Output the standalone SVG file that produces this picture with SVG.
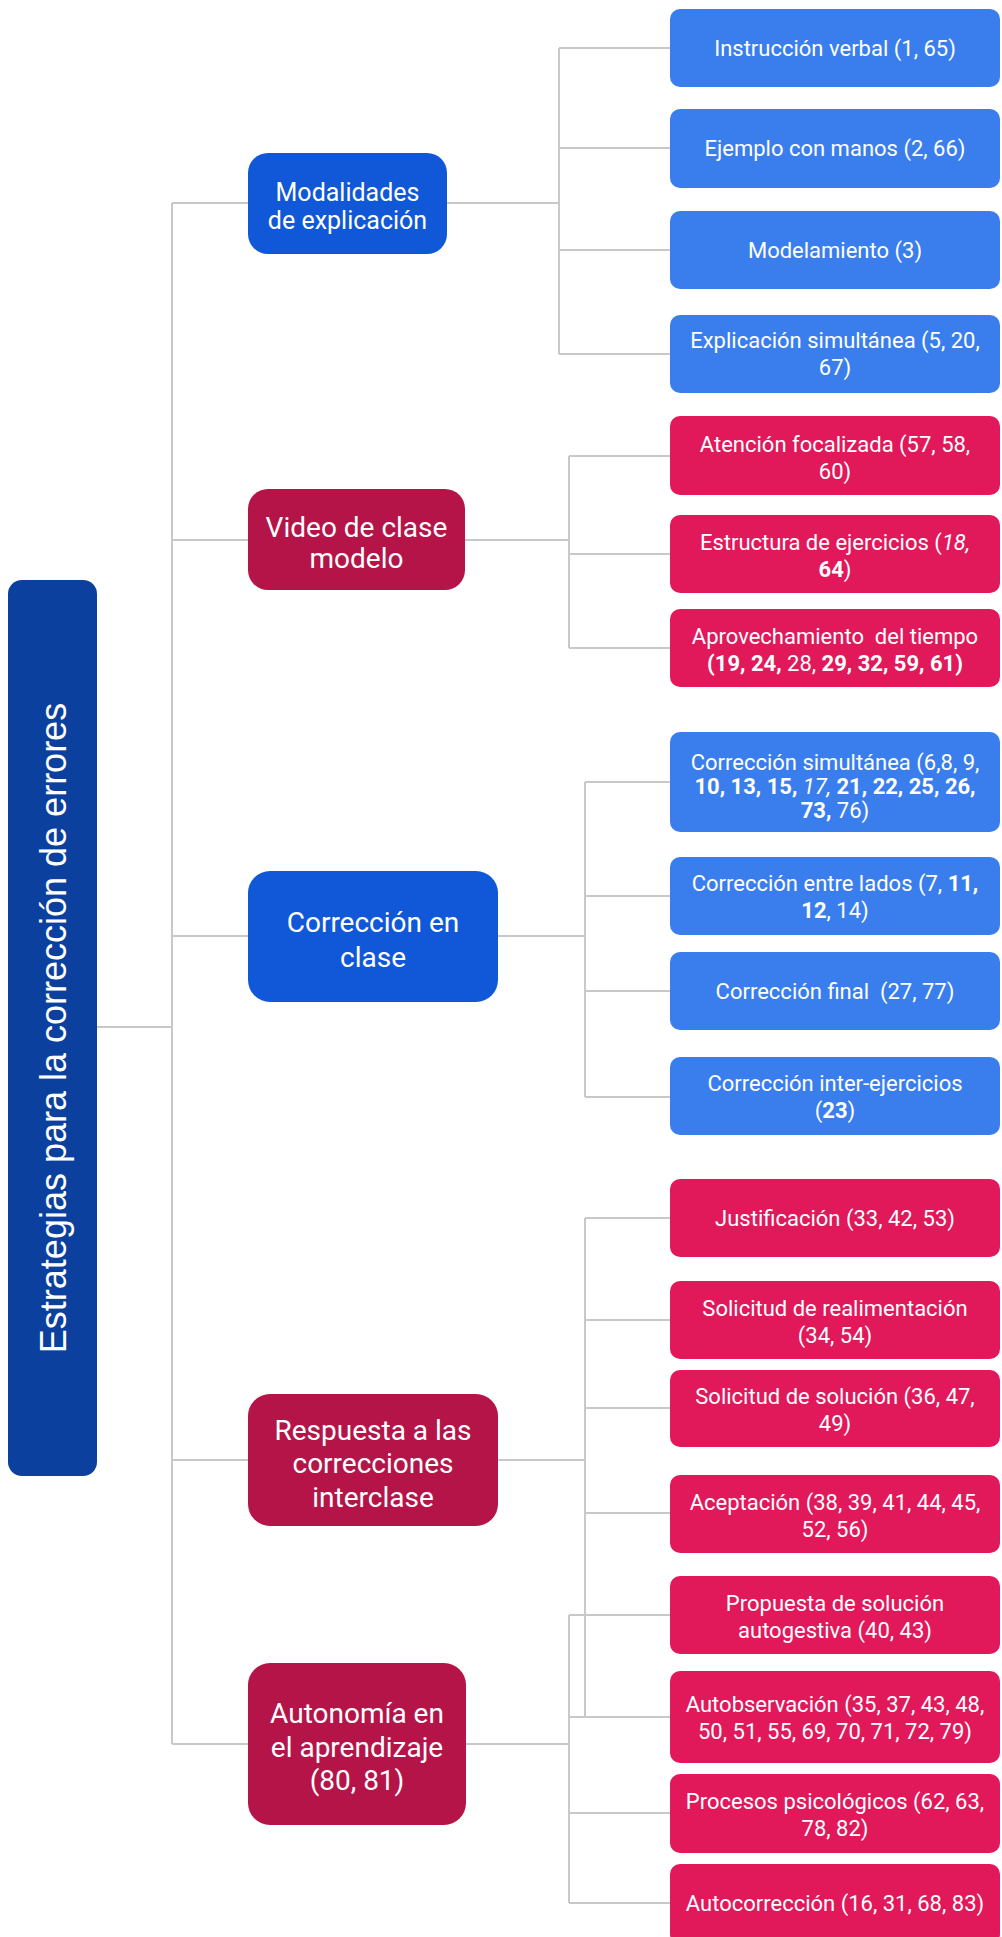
<svg xmlns="http://www.w3.org/2000/svg" width="1002" height="1937" viewBox="0 0 1002 1937">
<style>
.bg{fill:#ffffff}
.leafB{fill:#3a7eed}
.leafR{fill:#e1185a}
.midB{fill:#1058d8}
.midR{fill:#b41448}
.root{fill:#0b409f}
.conn{stroke:#c8c8c8;stroke-width:2;fill:none}
text{font-family:Roboto,"Liberation Sans",sans-serif;fill:#ffffff;text-anchor:middle}
.lt{font-size:22px}
.mt{font-size:28px}
.mt25{font-size:25px}
.rt{font-family:"Liberation Sans",Arial,sans-serif;font-size:36px}
.b{font-weight:bold}
.i{font-style:italic}
</style>
<rect class="bg" x="0" y="0" width="1002" height="1937"/>
<g id="connectors">
<path class="conn" d="M97,1027 H172 M172,203 V1744 M172,203 H248 M172,540 H248 M172,936 H248 M172,1460 H248 M172,1744 H248"/>
<path class="conn" d="M447,203 H559 M559,48 V354 M559,48 H670 M559,148 H670 M559,250 H670 M559,354 H670"/>
<path class="conn" d="M465,540 H569 M569,456 V648 M569,456 H670 M569,554 H670 M569,648 H670"/>
<path class="conn" d="M498,936 H585 M585,782 V1097 M585,782 H670 M585,896 H670 M585,991 H670 M585,1097 H670"/>
<path class="conn" d="M498,1460 H585 M585,1218 V1717 M585,1218 H670 M585,1320 H670 M585,1408 H670 M585,1513 H670 M585,1717 H670"/>
<path class="conn" d="M466,1744 H569 M569,1615 V1903 M569,1615 H670 M569,1717 H670 M569,1813 H670 M569,1903 H670"/>
</g>
<g id="root">
<rect class="root" x="8" y="580" width="89" height="896" rx="14"/>
<text class="rt" transform="translate(66,1028) rotate(-90)">Estrategias para la corrección de errores</text>
</g>
<g id="n-modalidades">
<rect class="midB" x="248" y="153" width="199" height="101" rx="20"/>
<text class="mt25" x="347.5" y="201">Modalidades</text>
<text class="mt25" x="347.5" y="229">de explicación</text>
</g>
<g id="n-video">
<rect class="midR" x="248" y="489" width="217" height="101" rx="20"/>
<text class="mt" x="356.5" y="537">Video de clase</text>
<text class="mt" x="356.5" y="568">modelo</text>
</g>
<g id="n-correccion">
<rect class="midB" x="248" y="871" width="250" height="131" rx="22"/>
<text class="mt" x="373" y="932">Corrección en</text>
<text class="mt" x="373" y="967">clase</text>
</g>
<g id="n-respuesta">
<rect class="midR" x="248" y="1394" width="250" height="132" rx="22"/>
<text class="mt" x="373" y="1440">Respuesta a las</text>
<text class="mt" x="373" y="1473">correcciones</text>
<text class="mt" x="373" y="1507">interclase</text>
</g>
<g id="n-autonomia">
<rect class="midR" x="248" y="1663" width="218" height="162" rx="22"/>
<text class="mt" x="357" y="1723">Autonomía en</text>
<text class="mt" x="357" y="1757">el aprendizaje</text>
<text class="mt" x="357" y="1790">(80, 81)</text>
</g>
<g id="l-instruccion">
<rect class="leafB" x="670" y="9" width="330" height="78" rx="10"/>
<text class="lt" x="835" y="56">Instrucción verbal (1, 65)</text>
</g>
<g id="l-ejemplo">
<rect class="leafB" x="670" y="109" width="330" height="79" rx="10"/>
<text class="lt" x="835" y="156">Ejemplo con manos (2, 66)</text>
</g>
<g id="l-modelamiento">
<rect class="leafB" x="670" y="211" width="330" height="78" rx="10"/>
<text class="lt" x="835" y="258">Modelamiento (3)</text>
</g>
<g id="l-explicacion">
<rect class="leafB" x="670" y="315" width="330" height="78" rx="10"/>
<text class="lt" x="835" y="348">Explicación simultánea (5, 20,</text>
<text class="lt" x="835" y="375">67)</text>
</g>
<g id="l-atencion">
<rect class="leafR" x="670" y="416" width="330" height="79" rx="10"/>
<text class="lt" x="835" y="452">Atención focalizada (57, 58,</text>
<text class="lt" x="835" y="479">60)</text>
</g>
<g id="l-estructura">
<rect class="leafR" x="670" y="515" width="330" height="78" rx="10"/>
<text class="lt" x="835" y="550">Estructura de ejercicios (<tspan class="i">18,</tspan></text>
<text class="lt" x="835" y="577"><tspan class="b">64</tspan>)</text>
</g>
<g id="l-aprovechamiento">
<rect class="leafR" x="670" y="609" width="330" height="78" rx="10"/>
<text class="lt" x="835" y="644" xml:space="preserve">Aprovechamiento  del tiempo</text>
<text class="lt" x="835" y="671"><tspan class="b">(19, 24,</tspan> 28, <tspan class="b">29, 32, 59, 61)</tspan></text>
</g>
<g id="l-corr-simultanea">
<rect class="leafB" x="670" y="732" width="330" height="100" rx="10"/>
<text class="lt" x="835" y="770">Corrección simultánea (6,8, 9,</text>
<text class="lt" x="835" y="794"><tspan class="b">10, 13, 15,</tspan> <tspan class="i">17,</tspan> <tspan class="b">21, 22, 25, 26,</tspan></text>
<text class="lt" x="835" y="818"><tspan class="b">73,</tspan> 76)</text>
</g>
<g id="l-corr-lados">
<rect class="leafB" x="670" y="857" width="330" height="78" rx="10"/>
<text class="lt" x="835" y="891">Corrección entre lados (7, <tspan class="b">11,</tspan></text>
<text class="lt" x="835" y="918"><tspan class="b">12</tspan>, 14)</text>
</g>
<g id="l-corr-final">
<rect class="leafB" x="670" y="952" width="330" height="78" rx="10"/>
<text class="lt" x="835" y="999" xml:space="preserve">Corrección final  (27, 77)</text>
</g>
<g id="l-corr-inter">
<rect class="leafB" x="670" y="1057" width="330" height="78" rx="10"/>
<text class="lt" x="835" y="1091">Corrección inter-ejercicios</text>
<text class="lt" x="835" y="1118">(<tspan class="b">23</tspan>)</text>
</g>
<g id="l-justificacion">
<rect class="leafR" x="670" y="1179" width="330" height="78" rx="10"/>
<text class="lt" x="835" y="1226">Justificación (33, 42, 53)</text>
</g>
<g id="l-sol-realim">
<rect class="leafR" x="670" y="1281" width="330" height="78" rx="10"/>
<text class="lt" x="835" y="1316">Solicitud de realimentación</text>
<text class="lt" x="835" y="1343">(34, 54)</text>
</g>
<g id="l-sol-solucion">
<rect class="leafR" x="670" y="1370" width="330" height="77" rx="10"/>
<text class="lt" x="835" y="1404">Solicitud de solución (36, 47,</text>
<text class="lt" x="835" y="1431">49)</text>
</g>
<g id="l-aceptacion">
<rect class="leafR" x="670" y="1475" width="330" height="78" rx="10"/>
<text class="lt" x="835" y="1510">Aceptación (38, 39, 41, 44, 45,</text>
<text class="lt" x="835" y="1537">52, 56)</text>
</g>
<g id="l-propuesta">
<rect class="leafR" x="670" y="1576" width="330" height="78" rx="10"/>
<text class="lt" x="835" y="1611">Propuesta de solución</text>
<text class="lt" x="835" y="1638">autogestiva (40, 43)</text>
</g>
<g id="l-autobservacion">
<rect class="leafR" x="670" y="1671" width="330" height="92" rx="10"/>
<text class="lt" x="835" y="1712">Autobservación (35, 37, 43, 48,</text>
<text class="lt" x="835" y="1739">50, 51, 55, 69, 70, 71, 72, 79)</text>
</g>
<g id="l-procesos">
<rect class="leafR" x="670" y="1774" width="330" height="79" rx="10"/>
<text class="lt" x="835" y="1809">Procesos psicológicos (62, 63,</text>
<text class="lt" x="835" y="1836">78, 82)</text>
</g>
<g id="l-autocorreccion">
<rect class="leafR" x="670" y="1864" width="330" height="80" rx="10"/>
<text class="lt" x="835" y="1911">Autocorrección (16, 31, 68, 83)</text>
</g>
</svg>
